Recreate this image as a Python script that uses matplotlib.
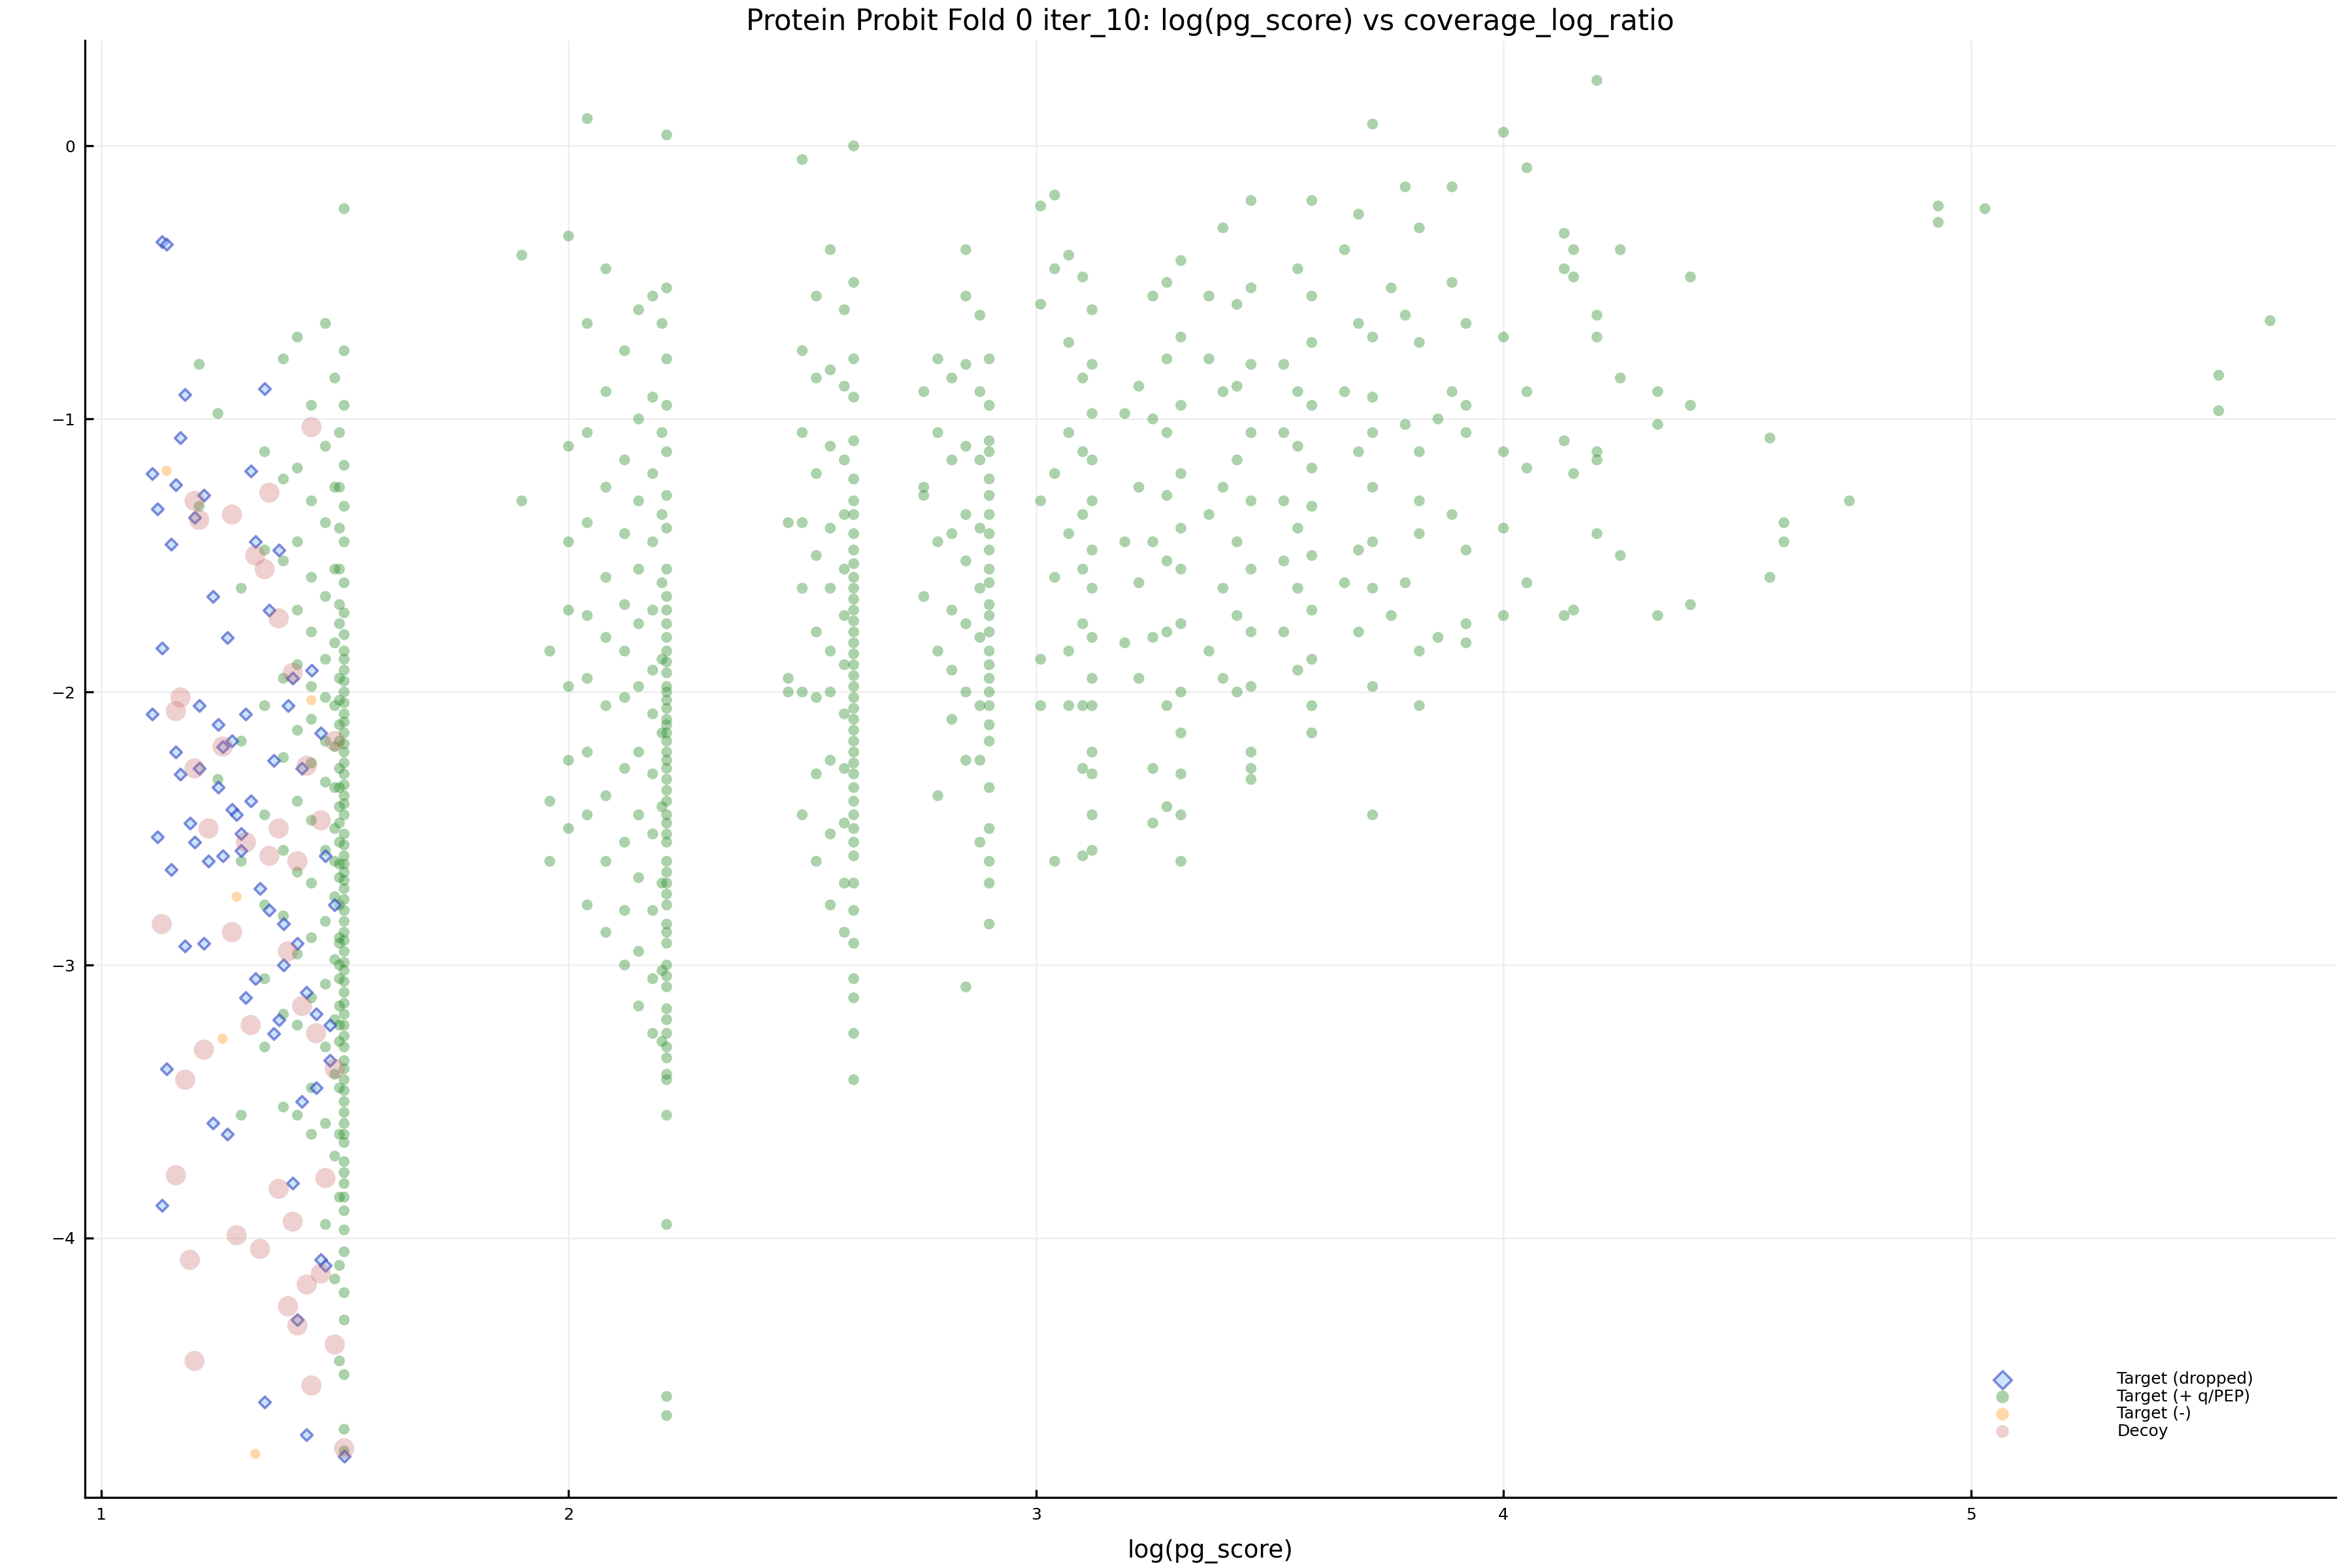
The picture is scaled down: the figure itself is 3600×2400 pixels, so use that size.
import matplotlib.pyplot as plt
import numpy as np

# Target (+ q/PEP): each x position with the y values read at that x
green_col_x = [1.52, 1.51, 1.50, 1.48, 1.45, 1.42, 1.39, 1.35, 1.30, 1.25, 1.21,
               2.21, 2.20, 2.18, 2.15, 2.12, 2.08, 2.04, 2.00, 1.96, 1.90,
               2.61, 2.59, 2.56, 2.53, 2.50, 2.47,
               2.90, 2.88, 2.85, 2.82, 2.79, 2.76,
               3.12, 3.10, 3.07, 3.04, 3.01,
               3.31, 3.28, 3.25, 3.22, 3.19,
               3.46, 3.43, 3.40, 3.37,
               3.59, 3.56, 3.53,
               3.72, 3.69, 3.66, 3.82, 3.79, 3.76, 3.92, 3.89, 3.86,
               4.00, 4.05, 4.13, 4.15, 4.20, 4.25, 4.33, 4.40, 4.57, 4.60, 4.74,
               4.93, 5.03, 5.53, 5.64]
green_col_y = [
    [-0.23, -0.75, -0.95, -1.17, -1.32, -1.45, -1.60, -1.71, -1.79, -1.85, -1.92, -2.00, -2.08, -2.15, -2.22,
     -2.30, -2.38, -2.45, -2.52, -2.60, -2.66, -2.72, -2.80, -2.88, -2.95, -3.02, -3.10, -3.18, -3.26, -3.35,
     -3.42, -3.50, -3.58, -3.65, -3.72, -3.80, -3.90, -4.05, -4.30, -4.70, -4.78,
     -1.88, -1.96, -2.04, -2.11, -2.19, -2.26, -2.34, -2.41, -2.56, -2.63, -2.69, -2.76, -2.84, -2.91, -2.99,
     -3.06, -3.14, -3.22, -3.30, -3.38, -3.46, -3.54, -3.62, -3.76, -3.85, -3.97, -4.20, -4.50],
    [-1.05, -1.40, -1.75, -1.95, -2.12, -2.28, -2.42, -2.55, -2.68, -2.78, -2.92, -3.05, -3.15, -3.28, -3.45,
     -3.62, -3.85, -4.10, -4.45, -2.03, -2.18, -2.35, -2.48, -2.63, -2.90, -3.00, -3.22, -1.25, -1.55, -1.68],
    [-0.85, -1.25, -1.55, -1.82, -2.05, -2.20, -2.35, -2.50, -2.62, -2.75, -2.98, -3.20, -3.40, -3.70, -4.15],
    [-0.65, -1.10, -1.38, -1.65, -1.88, -2.02, -2.18, -2.33, -2.58, -2.84, -3.07, -3.30, -3.58, -3.95],
    [-0.95, -1.30, -1.58, -1.78, -1.98, -2.10, -2.26, -2.47, -2.70, -2.90, -3.12, -3.45, -3.62],
    [-0.70, -1.18, -1.45, -1.70, -1.90, -2.14, -2.40, -2.66, -2.96, -3.22, -3.55],
    [-0.78, -1.22, -1.52, -1.95, -2.24, -2.58, -2.82, -3.18, -3.52],
    [-1.12, -1.48, -2.05, -2.45, -2.78, -3.05, -3.30],
    [-1.62, -2.18, -2.62, -3.55],
    [-0.98, -2.32],
    [-0.80, -1.32],
    [-0.52, -0.78, -0.95, -1.12, -1.28, -1.40, -1.55, -1.65, -1.75, -1.85, -1.93, -2.00, -2.06, -2.12, -2.18,
     -2.25, -2.32, -2.40, -2.48, -2.55, -2.62, -2.70, -2.78, -2.85, -2.92, -3.00, -3.08, -3.16, -3.25, -3.34,
     -3.42, -3.55, -3.95, -4.58, -4.65, 0.04, -1.98, -2.22, -2.45, -2.10,
     -1.70, -1.80, -1.89, -2.03, -2.15, -2.28, -2.36, -2.52, -2.66, -2.74, -2.88, -3.04, -3.20, -3.30, -3.40],
    [-0.65, -1.05, -1.35, -1.60, -1.88, -2.15, -2.42, -2.70, -3.02, -3.28],
    [-0.55, -0.92, -1.20, -1.45, -1.70, -1.92, -2.08, -2.30, -2.52, -2.80, -3.05, -3.25],
    [-0.60, -1.00, -1.30, -1.55, -1.75, -1.98, -2.22, -2.45, -2.68, -2.95, -3.15],
    [-0.75, -1.15, -1.42, -1.68, -1.85, -2.02, -2.28, -2.55, -2.80, -3.00],
    [-0.45, -0.90, -1.25, -1.58, -1.80, -2.05, -2.38, -2.62, -2.88],
    [-0.65, -1.05, -1.38, -1.72, -1.95, -2.22, -2.45, -2.78, 0.10],
    [-1.10, -1.45, -1.70, -1.98, -2.25, -2.50, -0.33],
    [-1.85, -2.40, -2.62],
    [-0.40, -1.30],
    [-0.50, -0.78, -0.92, -1.08, -1.22, -1.35, -1.48, -1.58, -1.66, -1.74, -1.82, -1.90, -1.98, -2.06, -2.14,
     -2.22, -2.30, -2.40, -2.50, -2.60, -2.70, -2.80, -2.92, -3.05, -3.12, -3.25, -3.42, 0.0,
     -1.30, -1.42, -1.53, -1.62, -1.70, -1.78, -1.86, -1.94, -2.02, -2.10, -2.18, -2.26, -2.35, -2.45, -2.55],
    [-0.60, -0.88, -1.15, -1.35, -1.55, -1.72, -1.90, -2.08, -2.28, -2.48, -2.70, -2.88],
    [-0.38, -0.82, -1.10, -1.40, -1.62, -1.85, -2.00, -2.25, -2.52, -2.78],
    [-0.55, -0.85, -1.20, -1.50, -1.78, -2.02, -2.30, -2.62],
    [-0.75, -1.05, -1.38, -1.62, -2.00, -2.45, -0.05],
    [-1.38, -1.95, -2.00],
    [-0.78, -0.95, -1.08, -1.22, -1.35, -1.48, -1.60, -1.72, -1.85, -1.95, -2.05, -2.18, -2.35, -2.50, -2.62,
     -2.70, -2.85, -1.12, -1.28, -1.42, -1.55, -1.68, -1.78, -1.90, -2.00, -2.12],
    [-0.62, -0.90, -1.15, -1.40, -1.62, -1.80, -2.05, -2.25, -2.55],
    [-0.55, -0.80, -1.10, -1.35, -1.52, -1.75, -2.00, -2.25, -0.38, -3.08],
    [-0.85, -1.15, -1.42, -1.70, -1.92, -2.10],
    [-0.78, -1.05, -1.45, -1.85, -2.38],
    [-0.90, -1.25, -1.65, -1.28],
    [-0.60, -0.80, -0.98, -1.15, -1.30, -1.48, -1.62, -1.80, -1.95, -2.05, -2.22, -2.30, -2.58, -2.45],
    [-0.48, -0.85, -1.12, -1.35, -1.55, -1.75, -2.05, -2.28, -2.60],
    [-0.40, -0.72, -1.05, -1.42, -1.85, -2.05],
    [-0.45, -1.20, -1.58, -2.62, -0.18],
    [-1.30, -1.88, -2.05, -0.22, -0.58],
    [-0.42, -0.70, -0.95, -1.20, -1.40, -1.55, -1.75, -2.00, -2.15, -2.30, -2.45, -2.62],
    [-0.50, -0.78, -1.05, -1.28, -1.52, -1.78, -2.05, -2.42],
    [-0.55, -1.00, -1.45, -1.80, -2.28, -2.48],
    [-0.88, -1.25, -1.60, -1.95],
    [-0.98, -1.45, -1.82],
    [-0.20, -0.52, -0.80, -1.05, -1.30, -1.55, -1.78, -1.98, -2.22, -2.28, -2.32],
    [-0.58, -0.88, -1.15, -1.45, -1.72, -2.00],
    [-0.30, -0.90, -1.25, -1.62, -1.95],
    [-0.55, -0.78, -1.35, -1.85],
    [-0.20, -0.55, -0.72, -0.95, -1.18, -1.32, -1.50, -1.70, -1.88, -2.05, -2.15],
    [-0.45, -0.90, -1.10, -1.40, -1.62, -1.92],
    [-0.80, -1.05, -1.30, -1.52, -1.78],
    [-0.70, -0.92, -1.05, -1.25, -1.45, -1.62, -1.98, -2.45, 0.08],
    [-0.25, -0.65, -1.12, -1.48, -1.78],
    [-0.38, -0.90, -1.60],
    [-0.30, -0.72, -1.12, -1.30, -1.42, -1.85, -2.05],
    [-0.15, -0.62, -1.02, -1.60],
    [-0.52, -1.72],
    [-0.65, -0.95, -1.05, -1.48, -1.75, -1.82],
    [-0.15, -0.50, -0.90, -1.35],
    [-1.00, -1.80],
    [-0.70, -1.12, -1.40, -1.72, 0.05],
    [-0.08, -1.18, -1.60, -0.90],
    [-0.32, -0.45, -1.08, -1.72],
    [-0.38, -0.48, -1.20, -1.70],
    [-0.62, -0.70, -1.12, -1.15, 0.24, -1.42],
    [-0.38, -0.85, -1.50],
    [-0.90, -1.72, -1.02],
    [-0.48, -1.68, -0.95],
    [-1.58, -1.07],
    [-1.38, -1.45],
    [-1.30],
    [-0.22, -0.28],
    [-0.23],
    [-0.84, -0.97],
    [-0.64],
]
green_x = np.concatenate([[x] * len(ys) for x, ys in zip(green_col_x, green_col_y)])
green_y = np.concatenate(green_col_y)

# Target (dropped): blue diamonds
drop_x = [1.13, 1.14, 1.17, 1.11, 1.12, 1.15, 1.16, 1.18, 1.20, 1.22, 1.24, 1.25, 1.27, 1.28, 1.30,
          1.32, 1.33, 1.35, 1.36, 1.38, 1.40, 1.41, 1.43, 1.45, 1.47, 1.48, 1.50, 1.11, 1.13, 1.16,
          1.19, 1.21, 1.23, 1.26, 1.29, 1.31, 1.34, 1.37, 1.39, 1.42, 1.44, 1.46, 1.49, 1.12, 1.15,
          1.18, 1.22, 1.25, 1.28, 1.30, 1.33, 1.36, 1.39, 1.43, 1.46, 1.49, 1.14, 1.17, 1.20, 1.24,
          1.27, 1.31, 1.35, 1.38, 1.41, 1.44, 1.47, 1.13, 1.21, 1.26, 1.32, 1.37, 1.42, 1.48, 1.52]
drop_y = [-0.35, -0.36, -1.07, -1.20, -1.33, -1.46, -1.24, -0.91, -1.36, -1.28, -1.65, -2.12, -1.80, -2.43, -2.58,
          -1.19, -1.45, -0.89, -1.70, -1.48, -2.05, -1.95, -2.28, -1.92, -2.15, -2.60, -2.78, -2.08, -1.84, -2.22,
          -2.48, -2.05, -2.62, -2.20, -2.45, -2.08, -2.72, -2.25, -2.85, -2.92, -3.10, -3.18, -3.22, -2.53, -2.65,
          -2.93, -2.92, -2.35, -2.18, -2.52, -3.05, -2.80, -3.00, -3.50, -3.45, -3.35, -3.38, -2.30, -2.55, -3.58,
          -3.62, -3.12, -4.60, -3.20, -3.80, -4.72, -4.08, -3.88, -2.28, -2.60, -2.40, -3.25, -4.30, -4.10, -4.80]

# Target (-): orange
neg_x = [1.14, 1.26, 1.29, 1.33, 1.45]
neg_y = [-1.19, -3.27, -2.75, -4.79, -2.03]

# Decoy: pink circles
decoy_x = [1.20, 1.21, 1.28, 1.33, 1.36, 1.38, 1.41, 1.45, 1.17, 1.16, 1.20, 1.23, 1.26, 1.31, 1.35,
           1.38, 1.42, 1.44, 1.47, 1.50, 1.13, 1.18, 1.22, 1.28, 1.32, 1.36, 1.40, 1.43, 1.46, 1.50,
           1.16, 1.19, 1.29, 1.34, 1.38, 1.41, 1.44, 1.47, 1.50, 1.20, 1.42, 1.45, 1.48, 1.52, 1.40]
decoy_y = [-1.30, -1.37, -1.35, -1.50, -1.27, -1.73, -1.93, -1.03, -2.02, -2.07, -2.28, -2.50, -2.20, -2.55, -1.55,
           -2.50, -2.62, -2.27, -2.47, -2.18, -2.85, -3.42, -3.31, -2.88, -3.22, -2.60, -2.95, -3.15, -3.25, -3.38,
           -3.77, -4.08, -3.99, -4.04, -3.82, -3.94, -4.17, -4.13, -4.39, -4.45, -4.32, -4.54, -3.78, -4.77, -4.25]

fig, ax = plt.subplots(figsize=(12, 8), dpi=300)
fig.subplots_adjust(left=0.036, right=0.993, bottom=0.045, top=0.974)

ax.scatter(green_x, green_y, s=16, color='#228b22', alpha=0.38, edgecolors='none',
           label='Target (+ q/PEP)', zorder=2)
ax.scatter(drop_x, drop_y, s=9, marker='D', facecolor='#a0d0ff', edgecolors='#2233bb',
           linewidths=0.9, alpha=0.55, label='Target (dropped)', zorder=3)
ax.scatter(neg_x, neg_y, s=14, color='#ffaa44', alpha=0.45, edgecolors='none',
           label='Target (-)', zorder=3)
ax.scatter(decoy_x, decoy_y, s=55, color='#c86464', alpha=0.3, edgecolors='none',
           label='Decoy', zorder=4)

ax.set_xlim(0.965, 5.78)
ax.set_ylim(-4.95, 0.385)
ax.set_xticks([1, 2, 3, 4, 5])
ax.set_yticks([0, -1, -2, -3, -4])
ax.set_yticklabels(['0', '\u22121', '\u22122', '\u22123', '\u22124'])
ax.tick_params(labelsize=6, length=3, direction='in')
ax.grid(True, color='#eeeeee', linewidth=0.6)
ax.set_axisbelow(True)
for side in ['top', 'right']:
    ax.spines[side].set_visible(False)
ax.set_xlabel('log(pg_score)', fontsize=9, labelpad=6)
ax.set_title('Protein Probit Fold 0 iter_10: log(pg_score) vs coverage_log_ratio', fontsize=10.5, pad=4)

handles, labels = ax.get_legend_handles_labels()
order = [1, 0, 2, 3]
leg = ax.legend([handles[i] for i in order], [labels[i] for i in order], loc='lower right',
                bbox_to_anchor=(0.97, 0.03), fontsize=6, frameon=False, handletextpad=6,
                labelspacing=0.1)
for h in leg.legend_handles:
    h.set_sizes([22])

plt.savefig('out.png')
